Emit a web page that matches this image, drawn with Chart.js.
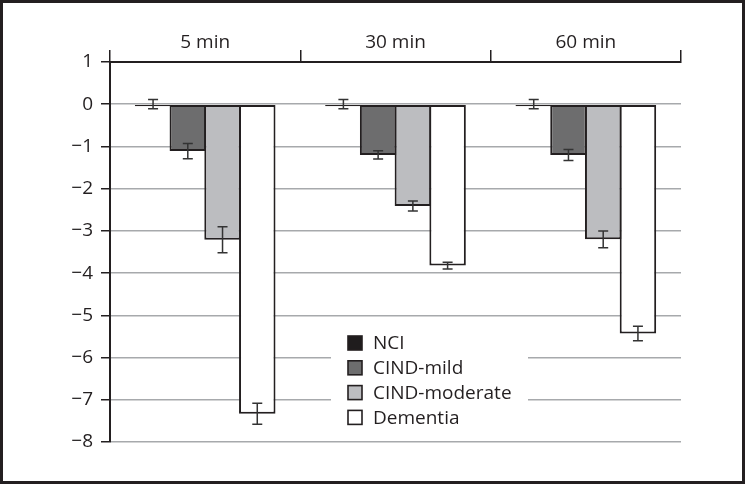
<!DOCTYPE html>
<html><head><meta charset="utf-8">
<script src="https://cdn.jsdelivr.net/npm/chart.js@4"></script>
<style>
html,body{margin:0;padding:0;background:#fff;}
#wrap{position:relative;width:745px;height:484px;}
#frame{position:absolute;left:0;top:0;width:745px;height:484px;box-sizing:border-box;border:3px solid #231f20;pointer-events:none;}
canvas{position:absolute;left:0;top:0;}
</style></head>
<body>
<div id="wrap"><canvas id="c" width="745" height="484"></canvas><div id="frame"></div></div>
<script>
const categories = ['5 min', '30 min', '60 min'];
const seriesNames = ['NCI', 'CIND-mild', 'CIND-moderate', 'Dementia'];
const nci = [-0.05, -0.05, -0.05];
const nciErr = [0.11, 0.11, 0.11];
const mild = [-1.11, -1.2, -1.2];
const mildErr = [0.18, 0.1, 0.13];
const moderate = [-3.21, -2.41, -3.2];
const moderateErr = [0.31, 0.12, 0.2];
const dementia = [-7.33, -3.82, -5.43];
const dementiaErr = [0.25, 0.08, 0.17];
const yTicks = [1, 0, -1, -2, -3, -4, -5, -6, -7, -8];

const FONT = "'Open Sans', 'Noto Sans', sans-serif";
const TXT = '#231f20';
const fills = ['#1f1c1d', '#6d6d6e', '#bcbdc0', '#ffffff'];
const values = [nci, mild, moderate, dementia];
const errs = [nciErr, mildErr, moderateErr, dementiaErr];

const datasets = seriesNames.map((n, i) => ({
  label: n,
  data: values[i],
  errors: errs[i],
  backgroundColor: fills[i],
  borderColor: '#231f20',
  borderWidth: 2,
  borderSkipped: false,
  categoryPercentage: 0.73,
  barPercentage: 1.05
}));

const errorBars = {
  id: 'errorBars',
  afterDatasetsDraw(chart) {
    const ctx = chart.ctx, y = chart.scales.y;
    ctx.save();
    ctx.strokeStyle = '#333';
    ctx.lineWidth = 1.5;
    chart.data.datasets.forEach((ds, di) => {
      const meta = chart.getDatasetMeta(di);
      meta.data.forEach((el, i) => {
        const v = ds.data[i], e = ds.errors[i];
        const base = di === 0 ? 0 : v;
        const yt = y.getPixelForValue(base + e), yb = y.getPixelForValue(base - e);
        const x = el.x;
        ctx.beginPath();
        ctx.moveTo(x, yt); ctx.lineTo(x, yb);
        ctx.moveTo(x - 5, yt); ctx.lineTo(x + 5, yt);
        ctx.moveTo(x - 5, yb); ctx.lineTo(x + 5, yb);
        ctx.stroke();
      });
    });
    ctx.restore();
  }
};

const legendBox = {
  id: 'legendBox',
  afterDatasetsDraw(chart) {
    const ctx = chart.ctx;
    ctx.save();
    ctx.fillStyle = '#fff';
    ctx.fillRect(331, 329, 197, 102);
    ctx.font = '19px ' + FONT;
    ctx.textBaseline = 'middle';
    chart.data.datasets.forEach((ds, i) => {
      const cy = 343 + i * 24.8;
      ctx.fillStyle = ds.backgroundColor;
      ctx.fillRect(348, cy - 7, 14, 14);
      ctx.strokeStyle = '#231f20';
      ctx.lineWidth = 1.6;
      ctx.strokeRect(348, cy - 7, 14, 14);
      ctx.fillStyle = TXT;
      ctx.fillText(ds.label, 373, cy + 1);
    });
    ctx.restore();
  }
};

new Chart(document.getElementById('c'), {
  type: 'bar',
  data: { labels: categories, datasets },
  options: {
    responsive: false,
    animation: false,
    events: [],
    layout: { padding: { left: 0, top: 0, right: 64, bottom: 42 } },
    plugins: { legend: { display: false }, tooltip: { enabled: false } },
    scales: {
      x: {
        position: 'top',
        offset: true,
        afterFit(s) { s.height = 62; },
        grid: { offset: true, drawOnChartArea: false, drawTicks: true, tickLength: 12, color: '#231f20', lineWidth: 1.5 },
        border: { display: true, color: '#231f20', width: 2 },
        ticks: { color: TXT, font: { family: FONT, size: 19 }, padding: -4 }
      },
      y: {
        min: -8, max: 1,
        afterFit(s) { s.width = 110; },
        afterBuildTicks(s) { s.ticks = yTicks.map(v => ({ value: v })); },
        grid: { color: '#a7a9ac', lineWidth: 1.5, tickColor: '#231f20', tickLength: 9, drawTicks: true },
        border: { display: true, color: '#231f20', width: 2 },
        ticks: {
          color: TXT, font: { family: FONT, size: 19 }, padding: 8,
          callback: v => (v < 0 ? '\u2212' + Math.abs(v) : String(v))
        }
      }
    }
  },
  plugins: [errorBars, legendBox]
});
</script>
</body></html>
